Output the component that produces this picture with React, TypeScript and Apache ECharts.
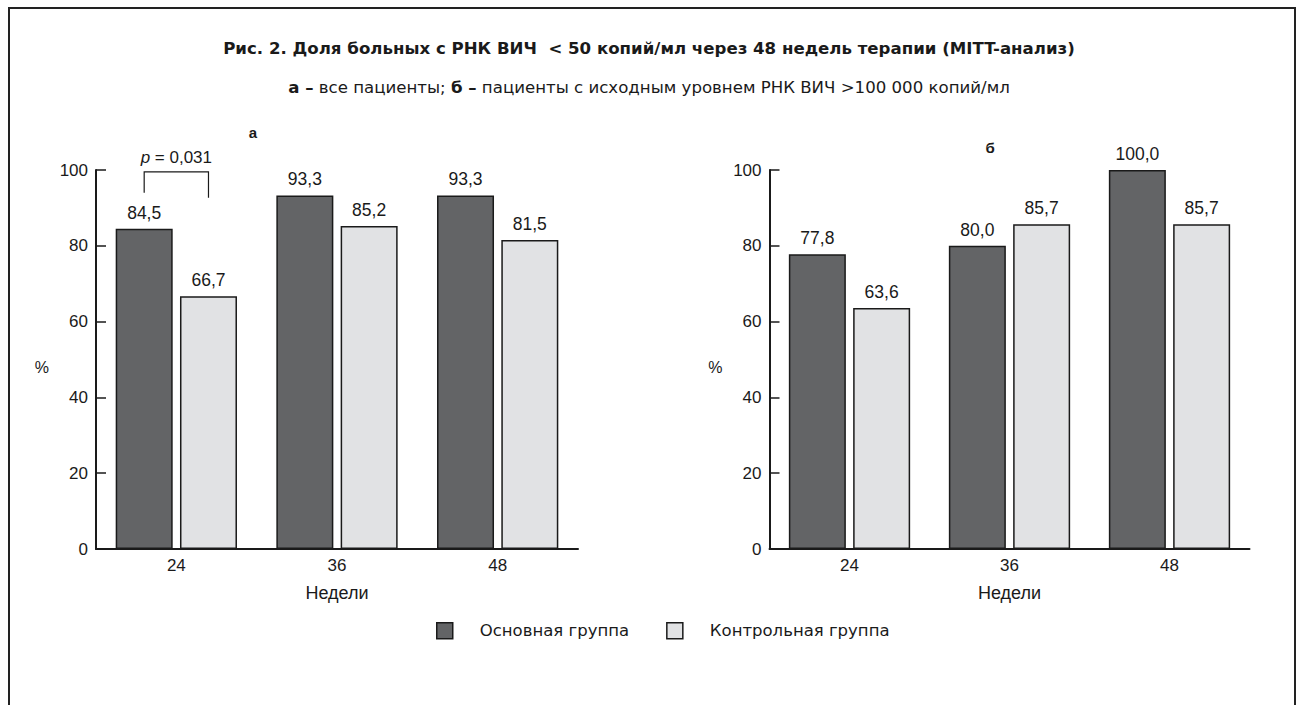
import { useEffect, useRef } from 'react';
import * as echarts from 'echarts';

const categories = ['24', '36', '48'];
const mainA = [84.5, 93.3, 93.3];
const controlA = [66.7, 85.2, 81.5];
const mainB = [77.8, 80.0, 100.0];
const controlB = [63.6, 85.7, 85.7];
const seriesNames = ['Основная группа', 'Контрольная группа'];
const panelLabels = ['а', 'б'];
const yMin = 0;
const yMax = 100;
const yInterval = 20;
const xName = 'Недели';
const yName = '%';
const titleText = 'Рис. 2. Доля больных с РНК ВИЧ  < 50 копий/мл через 48 недель терапии (MITT-анализ)';
// annotation (p-value bracket) in data units of panel "а"
const pValueText = '= 0,031';
const bracketTop = 99.5;
const bracketLeftEnd = 94.0;
const bracketRightEnd = 92.7;
const pTextValue = 103.4;

const FONT = "'Liberation Sans', Arial, Helvetica, sans-serif";
const WIDE = "'DejaVu Sans', 'Liberation Sans', sans-serif";
const DARK = '#636466';
const LIGHT = '#e1e2e4';
const INK = '#1a1a1a';
const BAR_W = 57;
const BAR_GAP_PX = 7.3;

const fmt = (v: number) => v.toFixed(1).replace('.', ',');

const xAxisCfg = (gridIndex: number) => ({
  type: 'category',
  gridIndex,
  data: categories,
  name: xName,
  nameLocation: 'middle',
  nameGap: 35,
  nameTextStyle: { fontSize: 18, color: INK, fontFamily: FONT },
  axisLine: { lineStyle: { color: INK, width: 2 } },
  axisTick: { inside: true, length: 9, lineStyle: { color: INK, width: 1 } },
  axisLabel: { fontSize: 17, color: INK, margin: 8, fontFamily: FONT },
  splitLine: { show: false },
});

const yAxisCfg = (gridIndex: number) => ({
  type: 'value',
  gridIndex,
  min: yMin,
  max: yMax,
  interval: yInterval,
  name: yName,
  nameLocation: 'middle',
  nameRotate: 0,
  nameGap: 47,
  nameTextStyle: { fontSize: 16, color: INK, fontFamily: FONT, verticalAlign: 'top' },
  axisLine: { show: true, lineStyle: { color: INK, width: 2 } },
  axisTick: { show: true, inside: true, length: 10, lineStyle: { color: INK, width: 1.5 } },
  axisLabel: { fontSize: 17, color: INK, margin: 8, fontFamily: FONT },
  splitLine: { show: false },
});

const barSeries = (name: string, data: number[], color: string, axisIndex: number) => ({
  type: 'bar',
  name,
  xAxisIndex: axisIndex,
  yAxisIndex: axisIndex,
  data,
  barWidth: BAR_W,
  barGap: `${((BAR_GAP_PX / BAR_W) * 100).toFixed(1)}%`,
  itemStyle: { color, borderColor: INK, borderWidth: 1.5 },
  label: {
    show: true,
    position: 'top',
    distance: 7,
    fontSize: 17.5,
    color: INK,
    fontFamily: FONT,
    formatter: (p: any) => fmt(p.value),
  },
});

export default function App() {
  const ref = useRef<HTMLDivElement>(null);
  useEffect(() => {
    if (!ref.current) return;
    const chart = echarts.init(ref.current, undefined, { renderer: 'svg' });
    chart.setOption({
      animation: false,
      backgroundColor: '#ffffff',
      textStyle: { fontFamily: FONT },
      title: [
        {
          text: titleText,
          left: 'center',
          top: 35,
          textStyle: { fontSize: 16.6, fontWeight: 'bold', color: INK, fontFamily: WIDE },
        },
        {
          text: '{b|а –} все пациенты; {b|б –} пациенты с исходным уровнем РНК ВИЧ >100 000 копий/мл',
          left: 'center',
          top: 74,
          textStyle: {
            fontSize: 16.6,
            fontWeight: 'normal',
            color: INK,
            fontFamily: WIDE,
            rich: {
              b: { fontSize: 16.6, fontWeight: 'bold', color: INK, fontFamily: WIDE },
            },
          },
        },
      ],
      legend: {
        left: 436,
        top: 622,
        padding: 0,
        icon: 'rect',
        itemWidth: 16,
        itemHeight: 16,
        itemGap: 37,
        data: seriesNames,
        itemStyle: { borderColor: INK, borderWidth: 1.5 },
        textStyle: { fontSize: 16.5, color: INK, fontFamily: WIDE, padding: [0, 0, 0, 22] },
      },
      grid: [
        { left: 96, top: 170, width: 482, height: 379 },
        { left: 769.5, top: 170, width: 480, height: 379 },
      ],
      xAxis: [xAxisCfg(0), xAxisCfg(1)],
      yAxis: [yAxisCfg(0), yAxisCfg(1)],
      series: [
        barSeries(seriesNames[0], mainA, DARK, 0),
        barSeries(seriesNames[1], controlA, LIGHT, 0),
        barSeries(seriesNames[0], mainB, DARK, 1),
        barSeries(seriesNames[1], controlB, LIGHT, 1),
      ],
    });

    const c0 = chart.convertToPixel({ xAxisIndex: 0, yAxisIndex: 0 }, [0, bracketTop]) as number[];
    const off = (BAR_W + BAR_GAP_PX) / 2;
    const xl = c0[0] - off;
    const xr = c0[0] + off;
    const yTop = c0[1];
    const yL = chart.convertToPixel({ yAxisIndex: 0 }, bracketLeftEnd) as number;
    const yR = chart.convertToPixel({ yAxisIndex: 0 }, bracketRightEnd) as number;
    const yP = chart.convertToPixel({ yAxisIndex: 0 }, pTextValue) as number;

    chart.setOption({
      graphic: [
        {
          id: 'frame',
          type: 'rect',
          shape: { x: 9, y: 8, width: 1286, height: 800 },
          style: { fill: 'none', stroke: '#222', lineWidth: 2 },
          silent: true,
        },
        {
          id: 'labelA',
          type: 'text',
          x: 253,
          y: 132,
          style: {
            text: panelLabels[0],
            fontSize: 15,
            fontWeight: 'bold',
            fill: INK,
            fontFamily: FONT,
            align: 'center',
            verticalAlign: 'middle',
          },
        },
        {
          id: 'labelB',
          type: 'text',
          x: 990,
          y: 147,
          style: {
            text: panelLabels[1],
            fontSize: 15,
            fontWeight: 'bold',
            fill: INK,
            fontFamily: FONT,
            align: 'center',
            verticalAlign: 'middle',
          },
        },
        {
          id: 'bracket',
          type: 'polyline',
          shape: { points: [[xl, yL], [xl, yTop], [xr, yTop], [xr, yR]] },
          style: { stroke: INK, lineWidth: 1.2, fill: 'none' },
        },
        {
          id: 'pText',
          type: 'text',
          x: (xl + xr) / 2,
          y: yP,
          style: {
            text: '{i|p} ' + pValueText,
            fontSize: 17,
            fill: INK,
            fontFamily: FONT,
            align: 'center',
            verticalAlign: 'middle',
            rich: { i: { fontStyle: 'italic', fontSize: 17, fill: INK, fontFamily: FONT } },
          },
        },
      ],
    });

    return () => chart.dispose();
  }, []);
  return (
    <div
      ref={ref}
      style={{ position: 'absolute', left: 0, top: 0, width: 1298, height: 705 }}
    />
  );
}
